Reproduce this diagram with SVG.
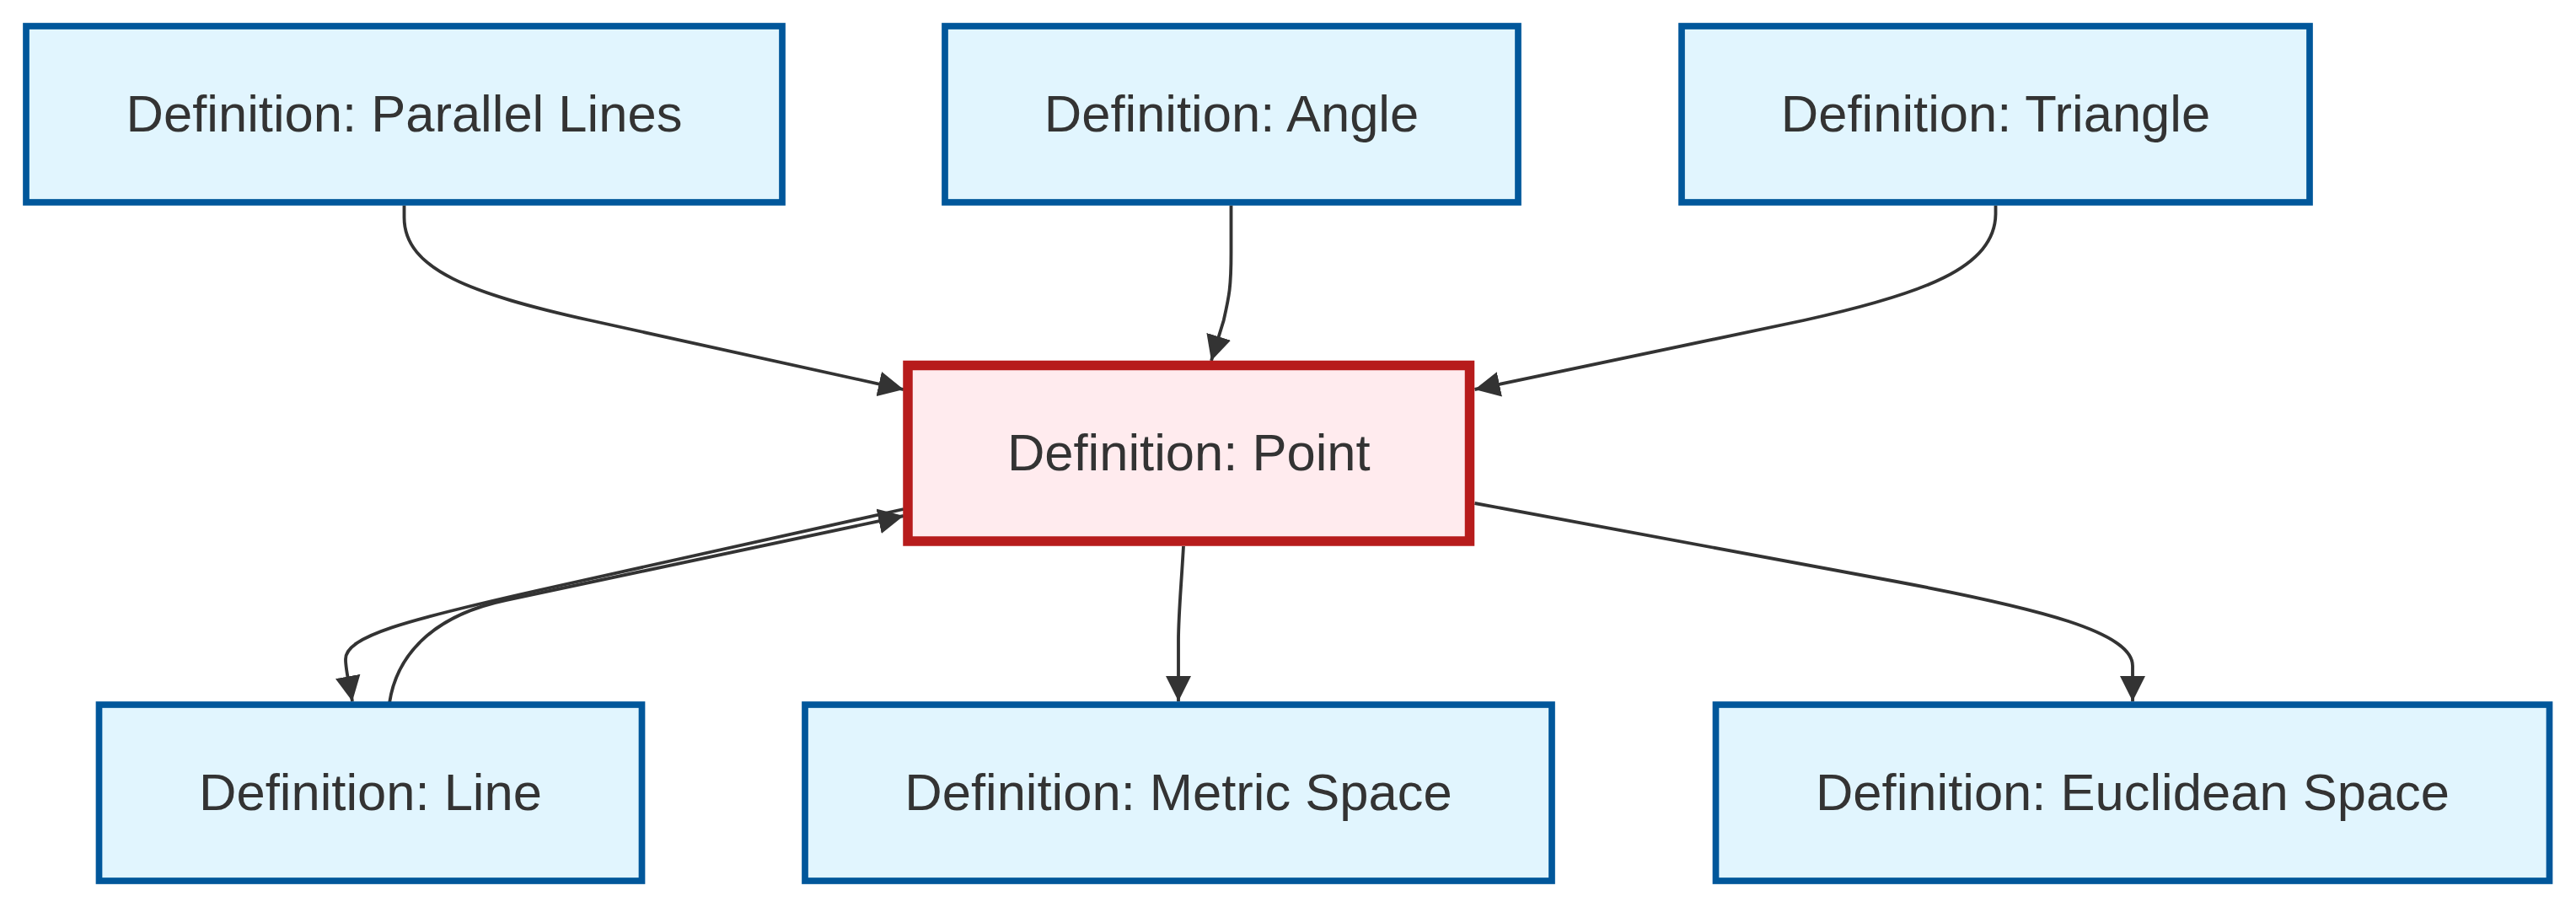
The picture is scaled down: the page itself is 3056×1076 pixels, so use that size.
<svg xmlns="http://www.w3.org/2000/svg" width="3056" height="1076" viewBox="0 0 3056 1076">
<style>
.n rect{fill:#e1f5fe;stroke:#01579b;stroke-width:7.7}
.hl rect{fill:#ffebee;stroke:#b71c1c;stroke-width:11.5}
.n text{font-family:"Liberation Sans",Arial,sans-serif;font-size:61.5px;fill:#333333;text-anchor:middle}
.e path{fill:none;stroke:#333333;stroke-width:3.84;marker-end:url(#arr)}
</style>
<defs>
<marker id="arr" viewBox="0 0 10 10" refX="10" refY="5" markerUnits="userSpaceOnUse" markerWidth="30" markerHeight="30" orient="auto">
<path d="M0,0 L10,5 L0,10 z" fill="#333333"/>
</marker>
</defs>
<rect width="3056" height="1076" fill="#ffffff"/>
<g id="edges" class="e">
<path d="M479.5,244 L479.5,258 C479.5,320 560,349 700,380 L1072,462"/>
<path d="M1460.5,244 L1460.5,300 C1460.5,342 1458,352 1451.7,380 L1437,428"/>
<path d="M2367.5,244 L2367.5,253 C2367.5,318 2280,349 2140,380 L1749.5,462"/>
<path d="M1072,604 L640,700 C480,736 410,755 410,782 C410,795 414,810 418,832"/>
<path d="M462,834 C470,780 510,731 600,712 L1072,612"/>
<path d="M1404,648 C1401,700 1398,730 1398,760 L1398,832"/>
<path d="M1749.5,597 L2250,690 C2420,722 2530,750 2530,790 L2530,832"/>
</g>
<g id="parallel" class="n"><rect x="31" y="31" width="897" height="209"/><text x="479.5" y="155.8">Definition: Parallel Lines</text></g>
<g id="angle" class="n"><rect x="1121" y="31" width="680" height="209"/><text x="1461" y="155.8">Definition: Angle</text></g>
<g id="triangle" class="n"><rect x="1995" y="31" width="745" height="209"/><text x="2367.5" y="155.8">Definition: Triangle</text></g>
<g id="point" class="n hl"><rect x="1077" y="433.5" width="666.5" height="208.5"/><text x="1410.25" y="558.3">Definition: Point</text></g>
<g id="line" class="n"><rect x="117.5" y="836" width="644" height="209"/><text x="439.5" y="960.8">Definition: Line</text></g>
<g id="metric" class="n"><rect x="955" y="836" width="886" height="209"/><text x="1398" y="960.8">Definition: Metric Space</text></g>
<g id="euclidean" class="n"><rect x="2035.5" y="836" width="989" height="209"/><text x="2530" y="960.8">Definition: Euclidean Space</text></g>
</svg>
